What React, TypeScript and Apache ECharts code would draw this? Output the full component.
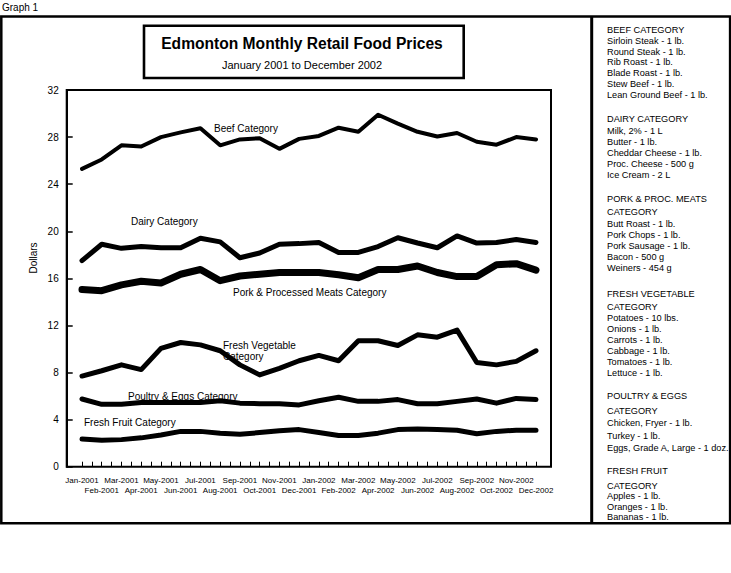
import React, { useEffect, useRef } from 'react';
import * as echarts from 'echarts';

const months = [
  'Jan-2001', 'Feb-2001', 'Mar-2001', 'Apr-2001', 'May-2001', 'Jun-2001',
  'Jul-2001', 'Aug-2001', 'Sep-2001', 'Oct-2001', 'Nov-2001', 'Dec-2001',
  'Jan-2002', 'Feb-2002', 'Mar-2002', 'Apr-2002', 'May-2002', 'Jun-2002',
  'Jul-2002', 'Aug-2002', 'Sep-2002', 'Oct-2002', 'Nov-2002', 'Dec-2002',
];

const beef = [25.3, 26.1, 27.3, 27.2, 28.0, 28.4, 28.75, 27.3, 27.8, 27.9, 27.0, 27.85, 28.1, 28.8, 28.45, 29.9, 29.15, 28.45, 28.05, 28.35, 27.6, 27.35, 28.0, 27.8];
const dairy = [17.5, 18.9, 18.55, 18.7, 18.6, 18.6, 19.4, 19.1, 17.75, 18.15, 18.9, 18.95, 19.05, 18.2, 18.2, 18.7, 19.45, 19.0, 18.6, 19.6, 19.0, 19.05, 19.3, 19.05];
const pork = [15.05, 14.95, 15.45, 15.75, 15.6, 16.35, 16.75, 15.8, 16.2, 16.35, 16.5, 16.5, 16.5, 16.3, 16.05, 16.75, 16.75, 17.05, 16.5, 16.15, 16.15, 17.15, 17.25, 16.7];
const vegetable = [7.7, 8.15, 8.65, 8.25, 10.05, 10.55, 10.35, 9.85, 8.65, 7.8, 8.35, 9.0, 9.45, 9.0, 10.7, 10.7, 10.3, 11.2, 11.0, 11.6, 8.85, 8.65, 8.95, 9.85];
const poultry = [5.75, 5.3, 5.3, 5.45, 5.45, 5.45, 5.45, 5.6, 5.4, 5.35, 5.35, 5.25, 5.6, 5.9, 5.55, 5.55, 5.7, 5.35, 5.35, 5.55, 5.75, 5.4, 5.8, 5.7];
const fruit = [2.35, 2.25, 2.3, 2.45, 2.7, 3.0, 3.0, 2.85, 2.75, 2.9, 3.05, 3.15, 2.9, 2.65, 2.65, 2.85, 3.15, 3.2, 3.15, 3.1, 2.8, 3.0, 3.1, 3.1];

const seriesNames = [
  'Beef Category',
  'Dairy Category',
  'Pork & Processed Meats Category',
  'Fresh Vegetable Category',
  'Poultry & Eggs Category',
  'Fresh Fruit Category',
];

const yTicks = { min: 0, max: 32, step: 4 };

const title = 'Edmonton Monthly Retail Food Prices';
const subtitle = 'January 2001 to December 2002';
const yName = 'Dollars';
const pageLabel = 'Graph 1';

const panelLines = [
  'BEEF CATEGORY', 'Sirloin Steak - 1 lb.', 'Round Steak - 1 lb.', 'Rib Roast - 1 lb.', 'Blade Roast - 1 lb.', 'Stew Beef - 1 lb.', 'Lean Ground Beef - 1 lb.',
  'DAIRY CATEGORY', 'Milk, 2% - 1 L', 'Butter - 1 lb.', 'Cheddar Cheese - 1 lb.', 'Proc. Cheese - 500 g', 'Ice Cream - 2 L',
  'PORK & PROC. MEATS', 'CATEGORY', 'Butt Roast - 1 lb.', 'Pork Chops - 1 lb.', 'Pork Sausage - 1 lb.', 'Bacon - 500 g', 'Weiners - 454 g',
  'FRESH VEGETABLE', 'CATEGORY', 'Potatoes - 10 lbs.', 'Onions - 1 lb.', 'Carrots - 1 lb.', 'Cabbage - 1 lb.', 'Tomatoes - 1 lb.', 'Lettuce - 1 lb.',
  'POULTRY & EGGS', 'CATEGORY', 'Chicken, Fryer - 1 lb.', 'Turkey - 1 lb.', 'Eggs, Grade A, Large - 1 doz.',
  'FRESH FRUIT', 'CATEGORY', 'Apples - 1 lb.', 'Oranges - 1 lb.', 'Bananas - 1 lb.',
];

// layout (pixel positions of decorations / annotation text)
const panelY = [
  30, 41, 52, 62, 73, 84, 95,
  119, 131, 142, 153, 164, 175,
  199, 212, 224, 235, 246, 257, 268,
  294, 307, 318, 329, 340, 351, 362, 373,
  396, 411, 423, 436, 448,
  471, 486, 496, 507, 517,
];
const annotationPos: [number, number][] = [
  [214, 128],
  [131, 221],
  [233, 292],
  [223, 345],
  [128, 396],
  [84, 422],
];
const lineWidths = [4, 5, 7, 5, 5, 5];

const FONT = '"Liberation Sans", Arial, sans-serif';

export default function App() {
  const ref = useRef<HTMLDivElement>(null);
  useEffect(() => {
    document.body.style.margin = '0';
    const chart = echarts.init(ref.current!, null, { renderer: 'svg' });
    const values = [beef, dairy, pork, vegetable, poultry, fruit];

    const txt = (text: string, x: number, y: number, size: number, extra: any = {}) => ({
      type: 'text',
      z: 0,
      style: {
        text,
        x,
        y,
        fill: '#000',
        fontSize: size,
        fontFamily: FONT,
        textAlign: 'left',
        align: 'left',
        textVerticalAlign: 'middle',
        verticalAlign: 'middle',
        ...extra,
      },
    });

    const graphics: any[] = [];
    graphics.push(txt(pageLabel, 2, 7, 10));
    graphics.push({ type: 'rect', shape: { x: 1.3, y: 16.5, width: 728.8, height: 506.8 }, style: { fill: 'none', stroke: '#000', lineWidth: 2.5 } });
    graphics.push({ type: 'line', shape: { x1: 591.7, y1: 16.5, x2: 591.7, y2: 523.3 }, style: { stroke: '#000', lineWidth: 3 } });
    graphics.push({ type: 'rect', shape: { x: 144, y: 25.7, width: 319.7, height: 52.3 }, style: { fill: 'none', stroke: '#000', lineWidth: 2.6 } });
    graphics.push(txt(title, 302, 43, 15.6, { fontWeight: 'bold', textAlign: 'center', align: 'center' }));
    graphics.push(txt(subtitle, 302, 65, 11, { textAlign: 'center', align: 'center' }));
    graphics.push({ type: 'rect', shape: { x: 66.7, y: 90, width: 484.3, height: 376.7 }, style: { fill: 'none', stroke: '#000', lineWidth: 2 } });
    graphics.push({
      type: 'text',
      z: 0,
      x: 33,
      y: 258,
      rotation: Math.PI / 2,
      style: { text: yName, x: 0, y: 0, fill: '#000', fontSize: 10, fontFamily: FONT, textAlign: 'center', align: 'center', textVerticalAlign: 'middle', verticalAlign: 'middle' },
    });
    seriesNames.forEach((name, i) => {
      const [x, y] = annotationPos[i];
      if (name === 'Fresh Vegetable Category') {
        graphics.push(txt('Fresh Vegetable', x, y, 10));
        graphics.push(txt('Category', x, y + 11, 10));
      } else {
        graphics.push(txt(name, x, y, 10));
      }
    });
    panelLines.forEach((line, i) => {
      graphics.push(txt(line, 607, panelY[i], 9.2));
    });

    chart.setOption({
      animation: false,
      backgroundColor: '#fff',
      grid: { left: 82, right: 731 - 536, top: 90, bottom: 573 - 466.7, containLabel: false },
      xAxis: [
        {
          type: 'category',
          data: months,
          boundaryGap: false,
          position: 'bottom',
          axisLine: { show: false, onZero: false },
          axisTick: { show: false },
          splitLine: { show: false },
          axisLabel: {
            interval: 0,
            color: '#000',
            fontSize: 8,
            fontFamily: FONT,
            lineHeight: 10,
            margin: 9,
            formatter: (v: string, i: number) => (i % 2 === 1 ? '\n' + v : v),
          },
        },
        {
          type: 'value',
          min: 0,
          max: months.length - 1,
          interval: 0.5,
          position: 'bottom',
          axisLine: { show: false, onZero: false },
          axisLabel: { show: false },
          splitLine: { show: false },
          axisTick: { show: true, inside: true, length: 5, lineStyle: { color: '#000', width: 1 } },
        },
      ],
      yAxis: {
        type: 'value',
        min: yTicks.min,
        max: yTicks.max,
        interval: yTicks.step,
        offset: 82 - 66.7,
        axisLine: { show: true, onZero: false, lineStyle: { color: '#000', width: 2 } },
        axisTick: { show: true, inside: true, length: 6, lineStyle: { color: '#000', width: 1.5 } },
        axisLabel: { color: '#000', fontSize: 10, fontFamily: FONT, margin: 8 },
        splitLine: { show: false },
      },
      series: seriesNames.map((name, i) => ({
        name,
        type: 'line',
        xAxisIndex: 0,
        yAxisIndex: 0,
        data: values[i],
        symbol: 'none',
        silent: true,
        lineStyle: { color: '#000', width: lineWidths[i], join: 'round', cap: 'round' },
      })),
      graphic: graphics,
    });
    return () => chart.dispose();
  }, []);
  return <div ref={ref} style={{ width: 731, height: 573, position: 'absolute', left: 0, top: 0 }} />;
}
